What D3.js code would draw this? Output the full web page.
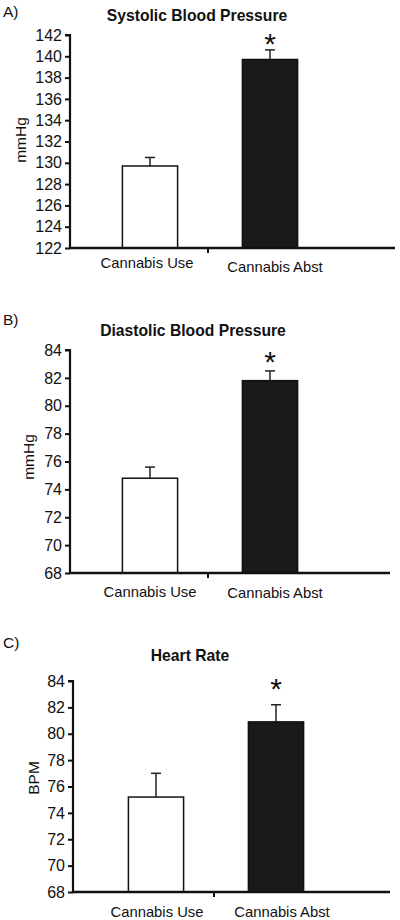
<!DOCTYPE html>
<html>
<head>
<meta charset="utf-8">
<script src="https://cdn.jsdelivr.net/npm/d3@7"></script>
<style>
  html, body { margin: 0; padding: 0; background: #fff; }
  svg { display: block; font-family: "Liberation Sans", Arial, Helvetica, sans-serif; }
</style>
</head>
<body>
<svg id="chart" width="400" height="920"></svg>
<script>
// ---- Data ----
const categories = ["Cannabis Use", "Cannabis Abst"];

const sbpMeans = [129.7, 139.7];
const sbpSem   = [0.8, 0.9];
const sbpTicks = [122, 124, 126, 128, 130, 132, 134, 136, 138, 140, 142];

const dbpMeans = [74.8, 81.8];
const dbpSem   = [0.8, 0.7];
const dbpTicks = [68, 70, 72, 74, 76, 78, 80, 82, 84];

const hrMeans = [75.2, 80.9];
const hrSem   = [1.8, 1.3];
const hrTicks = [68, 70, 72, 74, 76, 78, 80, 82, 84];

const panelLetters = ["A)", "B)", "C)"];
const panelTitles = ["Systolic Blood Pressure", "Diastolic Blood Pressure", "Heart Rate"];
const yLabels = ["mmHg", "mmHg", "BPM"];
const barFills = ["#ffffff", "#1a1a1a"];
const significant = [false, true];

// ---- Layout ----
const panels = [
  { means: sbpMeans, sem: sbpSem, ticks: sbpTicks,
    axisX: 70, yTop: 35, yBot: 248, xL: 90, xR: 330, lineEnd: 395,
    titleX: 197, titleY: 21, letterY: 17, ylabX: 20, ylabY: 140,
    xlabY: [268, 272], xlabDx: [-3, 5], starY: 37 },
  { means: dbpMeans, sem: dbpSem, ticks: dbpTicks,
    axisX: 70, yTop: 350, yBot: 573, xL: 90, xR: 330, lineEnd: 390,
    titleX: 193, titleY: 336, letterY: 325, ylabX: 28, ylabY: 457,
    xlabY: [597, 598], xlabDx: [0, 5], starY: 355 },
  { means: hrMeans, sem: hrSem, ticks: hrTicks,
    axisX: 73, yTop: 681, yBot: 892, xL: 96, xR: 336, lineEnd: 390,
    titleX: 190, titleY: 661, letterY: 648, ylabX: 33, ylabY: 778,
    xlabY: [917, 917], xlabDx: [1, 6], starY: 682 }
];

const svg = d3.select("#chart");

panels.forEach((p, i) => {
  const g = svg.append("g");
  const tks = p.ticks;
  const y = d3.scaleLinear().domain([tks[0], tks[tks.length - 1]]).range([p.yBot, p.yTop]);
  const x = d3.scaleBand().domain(categories).range([p.xL, p.xR]).padding(0);
  const barW = x.bandwidth() * 0.46;

  // Y axis
  const yAxis = d3.axisLeft(y).tickValues(tks).tickSize(5).tickPadding(3).tickFormat(d3.format("d"));
  const ya = g.append("g").attr("transform", `translate(${p.axisX},0)`).call(yAxis);
  ya.select(".domain").attr("stroke", "#111").attr("stroke-width", 2.2)
    .attr("d", `M-5,${p.yTop}H0V${p.yBot}`);
  ya.selectAll(".tick line").attr("stroke", "#111").attr("stroke-width", 2);
  ya.selectAll(".tick text").attr("font-size", 16).attr("fill", "#111");

  // Bars
  g.selectAll("rect.bar").data(categories).join("rect")
    .attr("class", "bar")
    .attr("x", d => x(d) + x.bandwidth() / 2 - barW / 2)
    .attr("width", barW)
    .attr("y", (d, j) => y(p.means[j]))
    .attr("height", (d, j) => p.yBot - y(p.means[j]))
    .attr("fill", (d, j) => barFills[j])
    .attr("stroke", "#111").attr("stroke-width", 1.5);

  // Error bars (upper only)
  categories.forEach((c, j) => {
    const cx = x(c) + x.bandwidth() / 2;
    const top = y(p.means[j] + p.sem[j]);
    g.append("line").attr("x1", cx).attr("x2", cx)
      .attr("y1", y(p.means[j])).attr("y2", top)
      .attr("stroke", "#222").attr("stroke-width", 1.5);
    g.append("line").attr("x1", cx - 5).attr("x2", cx + 5)
      .attr("y1", top).attr("y2", top)
      .attr("stroke", "#222").attr("stroke-width", 1.5);
    if (significant[j]) {
      g.append("text").attr("x", cx).attr("y", p.starY + 17)
        .attr("text-anchor", "middle").attr("font-size", 30).attr("fill", "#111")
        .text("*");
    }
  });

  // X baseline + centre tick
  g.append("line").attr("x1", p.axisX - 1).attr("x2", p.lineEnd)
    .attr("y1", p.yBot).attr("y2", p.yBot)
    .attr("stroke", "#111").attr("stroke-width", 2.5);
  const midX = (x(categories[0]) + x.bandwidth() + x(categories[1])) / 2 - 2;
  g.append("line").attr("x1", midX).attr("x2", midX)
    .attr("y1", p.yBot).attr("y2", p.yBot + 5)
    .attr("stroke", "#111").attr("stroke-width", 2);

  // X labels
  categories.forEach((c, j) => {
    g.append("text").attr("x", x(c) + x.bandwidth() / 2 + p.xlabDx[j])
      .attr("y", p.xlabY[j]).attr("text-anchor", "middle")
      .attr("font-size", 14.8).attr("fill", "#111").text(c);
  });

  // Y label
  g.append("text").attr("transform", `translate(${p.ylabX + 6},${p.ylabY}) rotate(-90)`)
    .attr("text-anchor", "middle").attr("font-size", 15.5).attr("fill", "#111")
    .text(yLabels[i]);

  // Title
  g.append("text").attr("x", p.titleX).attr("y", p.titleY)
    .attr("text-anchor", "middle").attr("font-size", 15.7).attr("font-weight", "bold")
    .attr("fill", "#111").text(panelTitles[i]);

  // Panel letter
  g.append("text").attr("x", 3).attr("y", p.letterY)
    .attr("font-size", 15.5).attr("fill", "#111").text(panelLetters[i]);
});
</script>
</body>
</html>
